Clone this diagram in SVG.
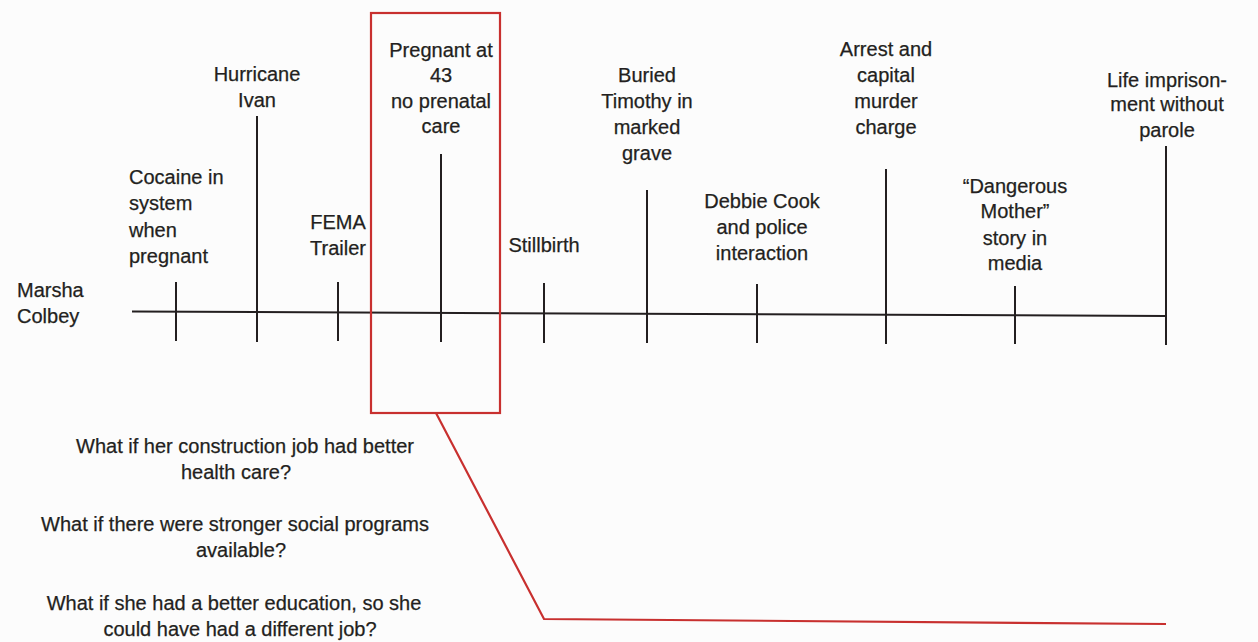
<svg xmlns="http://www.w3.org/2000/svg" width="1258" height="642" viewBox="0 0 1258 642">
<style>
text{font-family:"Liberation Sans",Arial,sans-serif;font-size:20px;fill:#231f20;stroke:#231f20;stroke-width:0.25}
.c{text-anchor:middle}
.tick{stroke:#231f20;stroke-width:2;fill:none}
.red{stroke:#c8302f;stroke-width:2.2;fill:none}
</style>
<rect width="1258" height="642" fill="#fcfcfc"/>
<g id="connectors">
<line class="tick" x1="132" y1="311.5" x2="1166" y2="316"/>
<polyline class="red" points="436,413 544,619 1166,624"/>
</g>
<g id="subject">
<text x="17" y="297">Marsha</text>
<text x="17" y="323">Colbey</text>
</g>
<g id="cocaine">
<line class="tick" x1="176" y1="282" x2="176" y2="341"/>
<text x="129" y="184">Cocaine in</text>
<text x="129" y="210">system</text>
<text x="129" y="237">when</text>
<text x="129" y="263">pregnant</text>
</g>
<g id="hurricane">
<line class="tick" x1="257" y1="116" x2="257" y2="342"/>
<text class="c" x="257" y="81">Hurricane</text>
<text class="c" x="257" y="107">Ivan</text>
</g>
<g id="fema">
<line class="tick" x1="338" y1="282" x2="338" y2="341"/>
<text class="c" x="338" y="229">FEMA</text>
<text class="c" x="338" y="255">Trailer</text>
</g>
<g id="pregnant">
<rect class="red" x="371" y="13" width="129" height="400"/>
<line class="tick" x1="441" y1="154" x2="441" y2="342"/>
<text class="c" x="441" y="57">Pregnant at</text>
<text class="c" x="441" y="82">43</text>
<text class="c" x="441" y="108">no prenatal</text>
<text class="c" x="441" y="133">care</text>
</g>
<g id="stillbirth">
<line class="tick" x1="544" y1="283" x2="544" y2="343"/>
<text class="c" x="544" y="252">Stillbirth</text>
</g>
<g id="buried">
<line class="tick" x1="647" y1="190" x2="647" y2="343"/>
<text class="c" x="647" y="82">Buried</text>
<text class="c" x="647" y="108">Timothy in</text>
<text class="c" x="647" y="134">marked</text>
<text class="c" x="647" y="160">grave</text>
</g>
<g id="debbie">
<line class="tick" x1="757" y1="284" x2="757" y2="343"/>
<text class="c" x="762" y="208">Debbie Cook</text>
<text class="c" x="762" y="234">and police</text>
<text class="c" x="762" y="260">interaction</text>
</g>
<g id="arrest">
<line class="tick" x1="886" y1="169" x2="886" y2="344"/>
<text class="c" x="886" y="56">Arrest and</text>
<text class="c" x="886" y="82">capital</text>
<text class="c" x="886" y="108">murder</text>
<text class="c" x="886" y="134">charge</text>
</g>
<g id="dangerous">
<line class="tick" x1="1015" y1="286" x2="1015" y2="344"/>
<text class="c" x="1015" y="193">“Dangerous</text>
<text class="c" x="1015" y="218">Mother”</text>
<text class="c" x="1015" y="245">story in</text>
<text class="c" x="1015" y="270">media</text>
</g>
<g id="life">
<line class="tick" x1="1166" y1="146" x2="1166" y2="345"/>
<text class="c" x="1167" y="87">Life imprison-</text>
<text class="c" x="1167" y="111">ment without</text>
<text class="c" x="1167" y="137">parole</text>
</g>
<g id="questions">
<text class="c" x="245" y="453">What if her construction job had better</text>
<text class="c" x="236" y="479">health care?</text>
<text class="c" x="235" y="531">What if there were stronger social programs</text>
<text class="c" x="241" y="557">available?</text>
<text class="c" x="234" y="610">What if she had a better education, so she</text>
<text class="c" x="240" y="636">could have had a different job?</text>
</g>
</svg>
